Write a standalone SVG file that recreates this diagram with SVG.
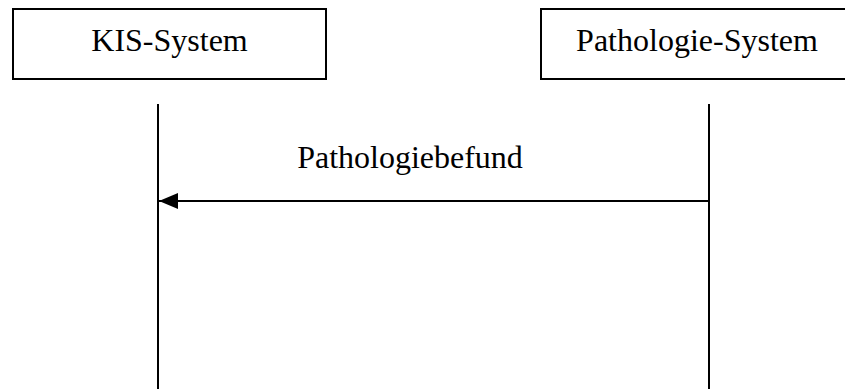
<svg xmlns="http://www.w3.org/2000/svg" width="845" height="389" viewBox="0 0 845 389">
<style>
.box{fill:#fff;stroke:#000;stroke-width:2}
.lbl{font-family:"Liberation Serif","Times New Roman",serif;font-size:32px;fill:#000;text-anchor:middle}
.line{stroke:#000;stroke-width:2;fill:none}
</style>
<defs>
<marker id="ah" markerWidth="20" markerHeight="16" refX="19" refY="8" orient="auto" markerUnits="userSpaceOnUse">
<path d="M0,0 L19,8 L0,16 Z" fill="#000"/>
</marker>
</defs>
<rect width="845" height="389" fill="#fff"/>
<g id="kis">
<rect class="box" x="13" y="9" width="313" height="70"/>
<text class="lbl" x="169.5" y="51">KIS-System</text>
</g>
<g id="patho">
<rect class="box" x="541" y="9" width="312" height="70"/>
<text class="lbl" x="697" y="51">Pathologie-System</text>
</g>
<g id="connectors">
<line class="line" x1="158" y1="104" x2="158" y2="389"/>
<line class="line" x1="709" y1="104" x2="709" y2="389"/>
<line class="line" x1="709" y1="201" x2="159" y2="201" marker-end="url(#ah)"/>
<text class="lbl" x="410" y="168">Pathologiebefund</text>
</g>
</svg>
